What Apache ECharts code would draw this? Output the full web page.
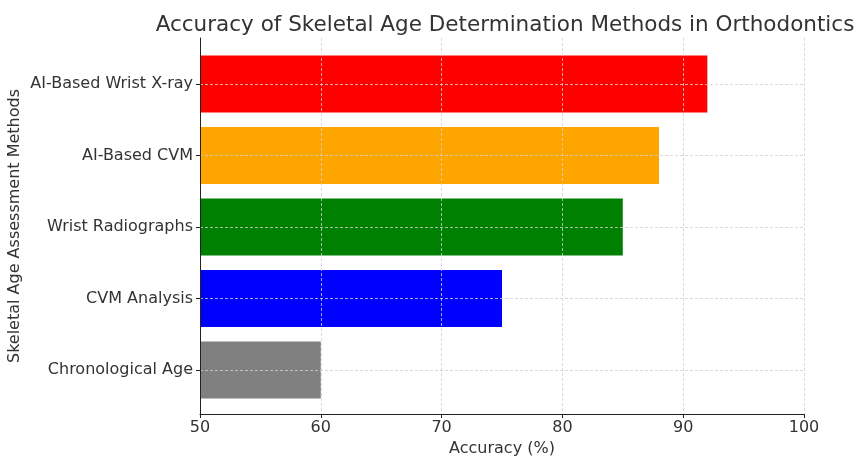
<!DOCTYPE html>
<html><head><meta charset="utf-8">
<script src="https://cdn.jsdelivr.net/npm/echarts@6/dist/echarts.min.js"></script>
<style>html,body{margin:0;padding:0;background:#fff}#c{width:857px;height:456px}</style>
</head><body><div id="c"></div>
<script>
const categories = ['Chronological Age', 'CVM Analysis', 'Wrist Radiographs', 'AI-Based CVM', 'AI-Based Wrist X-ray'];
const accuracy = [60, 75, 85, 88, 92];
const barColors = ['#808080', '#0000ff', '#008000', '#ffa500', '#ff0000'];
const xTicks = [50, 60, 70, 80, 90, 100];

const F = 'DejaVu Sans';
const TXT = '#333333';
const chart = echarts.init(document.getElementById('c'), null, {renderer: 'canvas'});
chart.setOption({
  animation: false,
  title: {
    text: 'Accuracy of Skeletal Age Determination Methods in Orthodontics',
    left: 500, top: 9, textAlign: 'center',
    textStyle: {fontFamily: F, fontSize: 21.5, fontWeight: 'normal', color: TXT}
  },
  grid: [
    {left: 200, right: 53, top: 84, bottom: 86, outerBoundsMode: 'none', containLabel: false},
    {left: 200, right: 53, top: 38, bottom: 42, outerBoundsMode: 'none', containLabel: false}
  ],
  xAxis: [
    {gridIndex: 0, type: 'value', min: xTicks[0], max: xTicks[xTicks.length - 1], show: false},
    {gridIndex: 1, type: 'value', min: xTicks[0], max: xTicks[xTicks.length - 1], interval: 10, z: 5,
     axisLine: {show: true, lineStyle: {color: '#222', width: 1}},
     axisTick: {show: true, length: 4, lineStyle: {color: '#222'}},
     axisLabel: {fontFamily: F, fontSize: 16, color: TXT, margin: 6},
     splitLine: {show: true, lineStyle: {color: '#d0d0d0', type: [3, 2], width: 0.8}},
     name: 'Accuracy (%)', nameLocation: 'middle', nameGap: 25,
     nameTextStyle: {fontFamily: F, fontSize: 16, color: TXT}}
  ],
  yAxis: [
    {gridIndex: 0, type: 'category', data: categories, boundaryGap: false, z: 5,
     axisLine: {show: false},
     axisTick: {show: true, length: 4, lineStyle: {color: '#222'}},
     axisLabel: {fontFamily: F, fontSize: 16, color: TXT, margin: 7},
     splitLine: {show: true, lineStyle: {color: '#d0d0d0', type: [3, 2], width: 0.8}}},
    {gridIndex: 1, type: 'value', min: 0, max: 1, z: 5,
     axisLine: {show: true, lineStyle: {color: '#222', width: 1}},
     axisTick: {show: false}, axisLabel: {show: false}, splitLine: {show: false},
     name: 'Skeletal Age Assessment Methods', nameLocation: 'middle', nameGap: 177, nameRotate: 90,
     nameTextStyle: {fontFamily: F, fontSize: 16, color: TXT}}
  ],
  series: [{
    type: 'bar', xAxisIndex: 0, yAxisIndex: 0, z: 2,
    barWidth: '80%',
    data: accuracy.map((v, i) => ({value: v, itemStyle: {color: barColors[i]}}))
  }]
});
</script></body></html>
